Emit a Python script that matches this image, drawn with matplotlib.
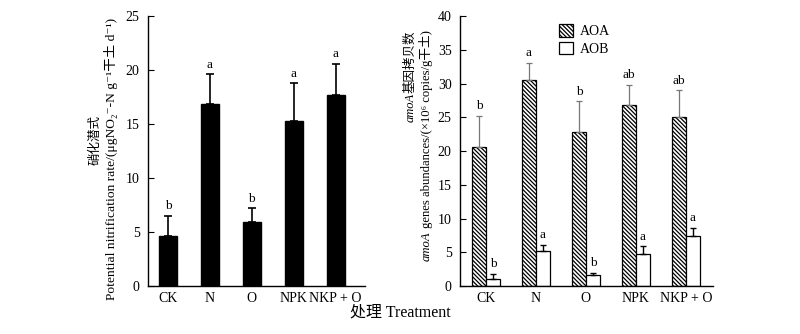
import numpy as np
import matplotlib
matplotlib.use("Agg")
import matplotlib.pyplot as plt

plt.rcParams['font.family'] = ['Liberation Serif', 'Noto Sans CJK SC', 'DejaVu Serif']
plt.rcParams['hatch.linewidth'] = 0.9

treatments = ["CK", "N", "O", "NPK", "NKP + O"]

pnr_mean = [4.6, 16.9, 5.9, 15.3, 17.7]
pnr_err = [1.9, 2.7, 1.3, 3.5, 2.9]
pnr_sig = ["b", "a", "b", "a", "a"]

aoa_mean = [20.6, 30.5, 22.8, 26.8, 25.1]
aoa_err = [4.6, 2.6, 4.6, 3.0, 3.9]
aoa_sig = ["b", "a", "b", "ab", "ab"]

aob_mean = [1.1, 5.2, 1.6, 4.7, 7.45]
aob_err = [0.7, 0.9, 0.4, 1.2, 1.15]
aob_sig = ["b", "a", "b", "a", "a"]

fig = plt.figure(figsize=(8, 3.34), dpi=100)
ax1 = fig.add_axes([0.185, 0.1437, 0.271, 0.8083])
ax2 = fig.add_axes([0.575, 0.1437, 0.316, 0.8083])


def style_axis(ax, ymax, step):
    for s in ("top", "right"):
        ax.spines[s].set_visible(False)
    for s in ("left", "bottom"):
        ax.spines[s].set_linewidth(1.0)
    ax.set_ylim(0, ymax)
    ax.set_yticks(np.arange(0, ymax + 0.1, step))
    ax.tick_params(axis="y", direction="in", length=4, width=0.8, pad=6, labelsize=10)
    ax.tick_params(axis="x", length=0, pad=4, labelsize=10)


def letters(ax, xs, tops, labels):
    for x, t, lab in zip(xs, tops, labels):
        ax.annotate(lab, (x, t), xytext=(0, 2.5), textcoords="offset points",
                    ha="center", va="bottom", fontsize=9.5)


# left panel
x = np.arange(len(treatments))
ax1.bar(x, pnr_mean, width=0.43, color="black", edgecolor="black")
ax1.errorbar(x, pnr_mean, yerr=[np.zeros(5), pnr_err], fmt="none", ecolor="black",
             elinewidth=1.2, capsize=3, capthick=1.2)
style_axis(ax1, 25, 5)
ax1.set_xlim(-0.48, 4.7)
ax1.set_xticks(x)
ax1.set_xticklabels(treatments)
letters(ax1, x, np.add(pnr_mean, pnr_err), pnr_sig)

# right panel
w = 0.28
ax2.bar(x - w / 2, aoa_mean, width=w, color="white", edgecolor="black",
        hatch="\\\\\\\\\\\\\\\\", linewidth=0.9, label="AOA")
ax2.bar(x + w / 2, aob_mean, width=w, color="white", edgecolor="black",
        linewidth=0.9, label="AOB")
ax2.errorbar(x - w / 2, aoa_mean, yerr=[np.zeros(5), aoa_err], fmt="none", ecolor="#777777",
             elinewidth=0.9, capsize=2.5, capthick=0.9)
ax2.errorbar(x + w / 2, aob_mean, yerr=[np.zeros(5), aob_err], fmt="none", ecolor="black",
             elinewidth=1.0, capsize=2.5, capthick=1.0)
style_axis(ax2, 40, 5)
ax2.set_xlim(-0.52, 4.54)
ax2.set_xticks(x)
ax2.set_xticklabels(treatments)
letters(ax2, x - w / 2, np.add(aoa_mean, aoa_err), aoa_sig)
letters(ax2, x + w / 2, np.add(aob_mean, aob_err), aob_sig)
ax2.legend(loc="upper left", bbox_to_anchor=(0.36, 1.0), frameon=False, fontsize=10,
           handlelength=1.0, handleheight=1.0, handletextpad=0.5, labelspacing=0.25,
           borderaxespad=0.2)


def vtext(pieces, x0, yref, size, align="center"):
    texts = []
    for s, st in pieces:
        texts.append(fig.text(x0, 0, s, rotation=90, rotation_mode="anchor",
                              ha="left", va="center", fontsize=size, style=st))
    fig.canvas.draw()
    r = fig.canvas.get_renderer()
    fh = fig.bbox.height
    hs = [t.get_window_extent(r).height / fh for t in texts]
    total = sum(hs)
    y = yref - total / 2 if align == "center" else yref - total
    for t, h in zip(texts, hs):
        t.set_y(y)
        y += h


vtext([("硝化潜式", "normal")], 0.12, 0.58, 9)
vtext([("Potential nitrification rate/(μgNO₂⁻-N g⁻¹干土 d⁻¹)", "normal")], 0.139, 0.525, 9.7)
vtext([("amoA", "italic"), ("基因拷贝数", "normal")], 0.513, 0.91, 9, align="top")
vtext([("amoA", "italic"), (" genes abundances/(×10⁶ copies/g干土)", "normal")], 0.533, 0.91, 9.1, align="top")

fig.text(0.5, 0.063, "处理 Treatment", ha="center", va="center", fontsize=11.5)

fig.savefig("out.png", dpi=100)
